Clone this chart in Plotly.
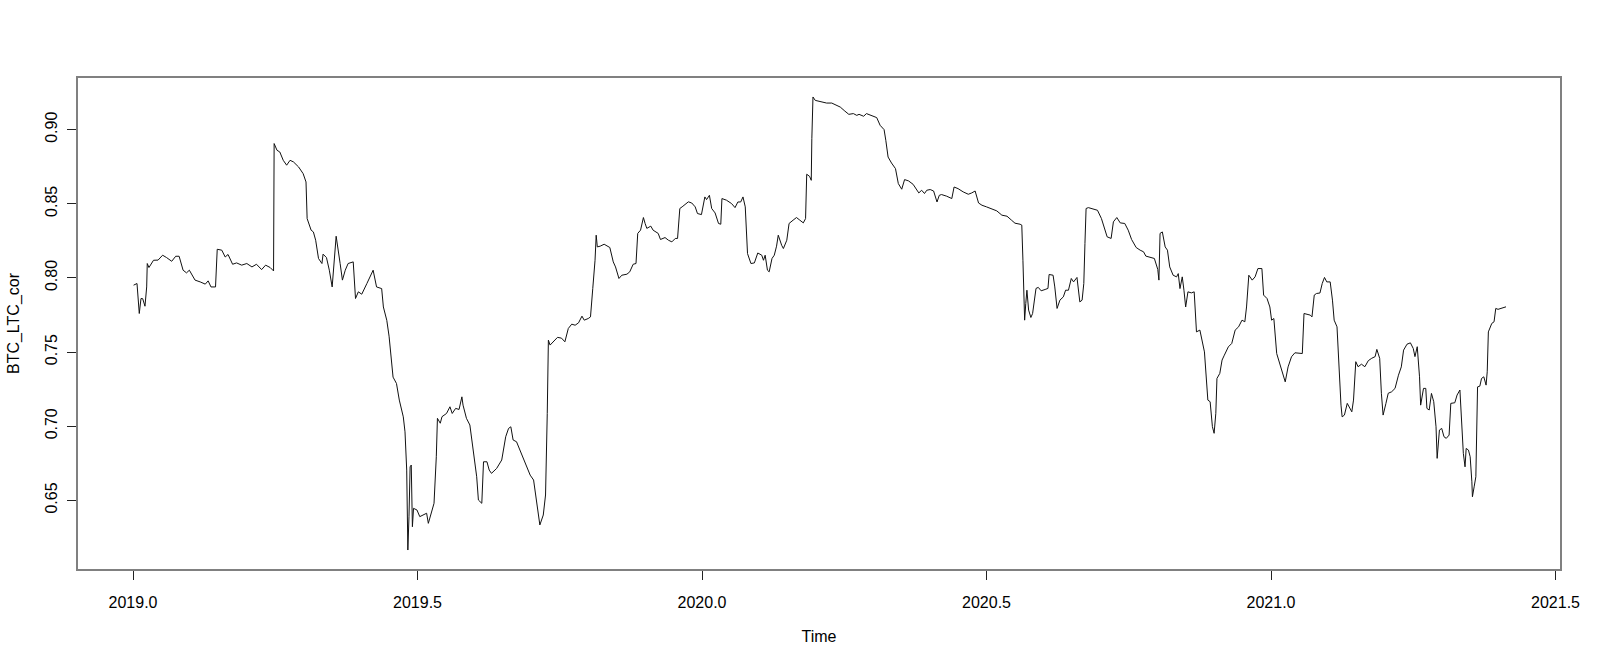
import plotly.graph_objects as go

time = [
    2019.001, 2019.007, 2019.011, 2019.014, 2019.017, 2019.021, 2019.024, 2019.025, 2019.028, 2019.036,
    2019.044, 2019.052, 2019.059, 2019.068, 2019.075, 2019.081, 2019.088, 2019.094, 2019.099, 2019.109,
    2019.118, 2019.127, 2019.132, 2019.137, 2019.145, 2019.148, 2019.156, 2019.162, 2019.167, 2019.175,
    2019.182, 2019.191, 2019.200, 2019.209, 2019.217, 2019.226, 2019.233, 2019.241, 2019.247, 2019.248,
    2019.253, 2019.258, 2019.264, 2019.270, 2019.276, 2019.282, 2019.291, 2019.299, 2019.304, 2019.306,
    2019.313, 2019.317, 2019.321, 2019.326, 2019.332, 2019.334, 2019.340, 2019.345, 2019.350, 2019.357,
    2019.364, 2019.368, 2019.373, 2019.378, 2019.387, 2019.391, 2019.396, 2019.402, 2019.411, 2019.422,
    2019.428, 2019.437, 2019.440, 2019.446, 2019.450, 2019.457, 2019.463, 2019.468, 2019.475, 2019.478,
    2019.481, 2019.483, 2019.485, 2019.487, 2019.489, 2019.491, 2019.493, 2019.499, 2019.504, 2019.510,
    2019.516, 2019.519, 2019.525, 2019.529, 2019.533, 2019.535, 2019.540, 2019.543, 2019.551, 2019.557,
    2019.561, 2019.567, 2019.573, 2019.578, 2019.580, 2019.586, 2019.592, 2019.598, 2019.604, 2019.607,
    2019.613, 2019.616, 2019.622, 2019.626, 2019.630, 2019.639, 2019.648, 2019.655, 2019.660, 2019.664,
    2019.668, 2019.674, 2019.680, 2019.686, 2019.692, 2019.698, 2019.704, 2019.710, 2019.715, 2019.721,
    2019.725, 2019.728, 2019.730, 2019.733, 2019.739, 2019.746, 2019.753, 2019.759, 2019.765, 2019.771,
    2019.777, 2019.783, 2019.789, 2019.793, 2019.800, 2019.804, 2019.808, 2019.812, 2019.814, 2019.816,
    2019.821, 2019.828, 2019.838, 2019.844, 2019.848, 2019.854, 2019.859, 2019.868, 2019.873, 2019.879,
    2019.884, 2019.887, 2019.892, 2019.897, 2019.900, 2019.903, 2019.910, 2019.914, 2019.923, 2019.927,
    2019.935, 2019.941, 2019.947, 2019.953, 2019.957, 2019.961, 2019.965, 2019.976, 2019.982, 2019.988,
    2019.992, 2019.999, 2020.005, 2020.008, 2020.013, 2020.017, 2020.023, 2020.029, 2020.033, 2020.035,
    2020.043, 2020.052, 2020.058, 2020.063, 2020.068, 2020.072, 2020.076, 2020.080, 2020.086, 2020.092,
    2020.098, 2020.105, 2020.108, 2020.111, 2020.115, 2020.118, 2020.123, 2020.127, 2020.131, 2020.134,
    2020.140, 2020.143, 2020.149, 2020.153, 2020.160, 2020.166, 2020.172, 2020.178, 2020.182, 2020.184,
    2020.189, 2020.192, 2020.193, 2020.195, 2020.199, 2020.210, 2020.219, 2020.228, 2020.234, 2020.243,
    2020.251, 2020.258, 2020.266, 2020.272, 2020.276, 2020.284, 2020.289, 2020.298, 2020.307, 2020.313,
    2020.320, 2020.323, 2020.327, 2020.333, 2020.340, 2020.345, 2020.351, 2020.356, 2020.363, 2020.371,
    2020.377, 2020.381, 2020.386, 2020.391, 2020.395, 2020.401, 2020.407, 2020.413, 2020.417, 2020.421,
    2020.430, 2020.439, 2020.443, 2020.450, 2020.459, 2020.468, 2020.474, 2020.480, 2020.486, 2020.492,
    2020.500, 2020.509, 2020.518, 2020.527, 2020.536, 2020.544, 2020.550, 2020.559, 2020.562, 2020.564,
    2020.567, 2020.569, 2020.571, 2020.574, 2020.578, 2020.581, 2020.587, 2020.591, 2020.596, 2020.603,
    2020.608, 2020.610, 2020.617, 2020.620, 2020.624, 2020.629, 2020.635, 2020.639, 2020.644, 2020.649,
    2020.653, 2020.659, 2020.661, 2020.664, 2020.668, 2020.671, 2020.673, 2020.675, 2020.679, 2020.688,
    2020.695, 2020.702, 2020.708, 2020.712, 2020.719, 2020.723, 2020.729, 2020.735, 2020.743, 2020.749,
    2020.755, 2020.763, 2020.770, 2020.776, 2020.780, 2020.787, 2020.795, 2020.801, 2020.803, 2020.805,
    2020.809, 2020.814, 2020.818, 2020.822, 2020.828, 2020.834, 2020.837, 2020.840, 2020.844, 2020.847,
    2020.850, 2020.854, 2020.860, 2020.865, 2020.869, 2020.875, 2020.883, 2020.889, 2020.893, 2020.897,
    2020.900, 2020.903, 2020.905, 2020.910, 2020.914, 2020.918, 2020.925, 2020.931, 2020.937, 2020.943,
    2020.949, 2020.954, 2020.957, 2020.961, 2020.967, 2020.972, 2020.977, 2020.984, 2020.987, 2020.993,
    2020.998, 2021.001, 2021.005, 2021.010, 2021.015, 2021.019, 2021.025, 2021.030, 2021.036, 2021.042,
    2021.055, 2021.058, 2021.069, 2021.072, 2021.076, 2021.080, 2021.086, 2021.090, 2021.094, 2021.098,
    2021.104, 2021.108, 2021.111, 2021.116, 2021.118, 2021.120, 2021.123, 2021.125, 2021.129, 2021.134,
    2021.137, 2021.142, 2021.145, 2021.149, 2021.153, 2021.159, 2021.165, 2021.171, 2021.177, 2021.183,
    2021.186, 2021.191, 2021.194, 2021.197, 2021.202, 2021.206, 2021.212, 2021.218, 2021.224, 2021.229,
    2021.233, 2021.239, 2021.245, 2021.250, 2021.253, 2021.257, 2021.261, 2021.263, 2021.268, 2021.272,
    2021.274, 2021.278, 2021.282, 2021.286, 2021.290, 2021.292, 2021.296, 2021.300, 2021.304, 2021.308,
    2021.313, 2021.316, 2021.323, 2021.327, 2021.332, 2021.335, 2021.338, 2021.341, 2021.343, 2021.347,
    2021.350, 2021.353, 2021.354, 2021.357, 2021.360, 2021.363, 2021.367, 2021.370, 2021.374, 2021.378,
    2021.380, 2021.382, 2021.388, 2021.392, 2021.395, 2021.399, 2021.405, 2021.413,
]

btc_ltc_cor = [
    0.7951, 0.7962, 0.7760, 0.7861, 0.7860, 0.7809, 0.7939, 0.8097, 0.8070, 0.8119,
    0.8120, 0.8153, 0.8137, 0.8112, 0.8146, 0.8146, 0.8052, 0.8034, 0.8052, 0.7985,
    0.7973, 0.7958, 0.7980, 0.7939, 0.7939, 0.8193, 0.8187, 0.8141, 0.8158, 0.8092,
    0.8101, 0.8086, 0.8097, 0.8074, 0.8092, 0.8056, 0.8086, 0.8070, 0.8047, 0.8906,
    0.8861, 0.8849, 0.8793, 0.8760, 0.8793, 0.8782, 0.8748, 0.8703, 0.8647, 0.8400,
    0.8322, 0.8310, 0.8254, 0.8131, 0.8097, 0.8160, 0.8137, 0.8052, 0.7939, 0.8281,
    0.8097, 0.7985, 0.8052, 0.8097, 0.8108, 0.7861, 0.7906, 0.7890, 0.7962, 0.8052,
    0.7939, 0.7928, 0.7804, 0.7714, 0.7607, 0.7331, 0.7288, 0.7176, 0.7063, 0.6962,
    0.6704, 0.6165, 0.6389, 0.6726, 0.6738, 0.6322, 0.6446, 0.6435, 0.6390, 0.6401,
    0.6413, 0.6345, 0.6435, 0.6480, 0.6794, 0.7053, 0.7020, 0.7064, 0.7086, 0.7131,
    0.7086, 0.7120, 0.7113, 0.7198, 0.7142, 0.7053, 0.7008, 0.6839, 0.6659, 0.6502,
    0.6480, 0.6760, 0.6760, 0.6704, 0.6682, 0.6715, 0.6772, 0.6929, 0.6985, 0.6996,
    0.6907, 0.6895, 0.6839, 0.6783, 0.6726, 0.6670, 0.6637, 0.6480, 0.6334, 0.6401,
    0.6536, 0.7086, 0.7580, 0.7547, 0.7569, 0.7599, 0.7594, 0.7569, 0.7659, 0.7688,
    0.7681, 0.7697, 0.7742, 0.7715, 0.7726, 0.7737, 0.7929, 0.8119, 0.8288, 0.8209,
    0.8214, 0.8227, 0.8205, 0.8108, 0.8074, 0.7996, 0.8018, 0.8025, 0.8041, 0.8092,
    0.8097, 0.8300, 0.8322, 0.8407, 0.8367, 0.8334, 0.8349, 0.8322, 0.8300, 0.8259,
    0.8272, 0.8254, 0.8243, 0.8266, 0.8266, 0.8468, 0.8479, 0.8513, 0.8505, 0.8479,
    0.8434, 0.8427, 0.8546, 0.8528, 0.8557, 0.8468, 0.8438, 0.8367, 0.8362, 0.8535,
    0.8524, 0.8501, 0.8474, 0.8512, 0.8512, 0.8546, 0.8479, 0.8164, 0.8097, 0.8101,
    0.8168, 0.8153, 0.8119, 0.8153, 0.8052, 0.8041, 0.8131, 0.8153, 0.8214, 0.8288,
    0.8220, 0.8198, 0.8254, 0.8367, 0.8389, 0.8407, 0.8389, 0.8371, 0.8400, 0.8699,
    0.8685, 0.8658, 0.8939, 0.9220, 0.9197, 0.9186, 0.9179, 0.9179, 0.9170, 0.9152,
    0.9125, 0.9103, 0.9108, 0.9096, 0.9103, 0.9090, 0.9108, 0.9096, 0.9081, 0.9029,
    0.9000, 0.8928, 0.8815, 0.8775, 0.8737, 0.8636, 0.8598, 0.8663, 0.8654, 0.8631,
    0.8591, 0.8573, 0.8591, 0.8569, 0.8591, 0.8596, 0.8586, 0.8512, 0.8557, 0.8562,
    0.8551, 0.8535, 0.8613, 0.8602, 0.8580, 0.8564, 0.8573, 0.8586, 0.8505, 0.8490,
    0.8479, 0.8468, 0.8452, 0.8423, 0.8416, 0.8389, 0.8369, 0.8362, 0.8356, 0.8119,
    0.7715, 0.7827, 0.7917, 0.7783, 0.7733, 0.7760, 0.7929, 0.7936, 0.7913, 0.7922,
    0.7929, 0.8023, 0.8018, 0.7939, 0.7794, 0.7850, 0.7872, 0.7917, 0.7917, 0.7996,
    0.7973, 0.8003, 0.7917, 0.7838, 0.7850, 0.7962, 0.8232, 0.8468, 0.8474, 0.8465,
    0.8456, 0.8400, 0.8322, 0.8277, 0.8266, 0.8378, 0.8407, 0.8371, 0.8367, 0.8322,
    0.8259, 0.8205, 0.8187, 0.8176, 0.8147, 0.8138, 0.8131, 0.8057, 0.7985, 0.8300,
    0.8310, 0.8209, 0.8187, 0.8074, 0.8018, 0.8007, 0.8029, 0.7928, 0.8007, 0.7917,
    0.7804, 0.7906, 0.7899, 0.7906, 0.7636, 0.7648, 0.7501, 0.7176, 0.7165, 0.6997,
    0.6952, 0.7087, 0.7322, 0.7356, 0.7446, 0.7479, 0.7535, 0.7558, 0.7648, 0.7670,
    0.7715, 0.7704, 0.7804, 0.8018, 0.7985, 0.8007, 0.8063, 0.8063, 0.7884, 0.7861,
    0.7804, 0.7715, 0.7726, 0.7490, 0.7423, 0.7367, 0.7299, 0.7400, 0.7468, 0.7495,
    0.7490, 0.7760, 0.7749, 0.7737, 0.7884, 0.7895, 0.7898, 0.7962, 0.8003, 0.7973,
    0.7973, 0.7850, 0.7715, 0.7670, 0.7513, 0.7311, 0.7142, 0.7063, 0.7075, 0.7154,
    0.7131, 0.7097, 0.7176, 0.7435, 0.7401, 0.7418, 0.7401, 0.7442, 0.7458, 0.7469,
    0.7518, 0.7457, 0.7222, 0.7075, 0.7154, 0.7222, 0.7232, 0.7255, 0.7344, 0.7400,
    0.7513, 0.7553, 0.7562, 0.7524, 0.7469, 0.7536, 0.7333, 0.7142, 0.7255, 0.7255,
    0.7120, 0.7109, 0.7221, 0.7165, 0.6996, 0.6783, 0.6974, 0.6985, 0.6929, 0.6918,
    0.6940, 0.7154, 0.7158, 0.7210, 0.7244, 0.7053, 0.6817, 0.6726, 0.6850, 0.6839,
    0.6794, 0.6625, 0.6524, 0.6591, 0.6659, 0.7265, 0.7270, 0.7322, 0.7333, 0.7277,
    0.7367, 0.7636, 0.7693, 0.7704, 0.7794, 0.7788, 0.7794, 0.7805,
]

x_ticks = [2019.0, 2019.5, 2020.0, 2020.5, 2021.0, 2021.5]
x_tick_labels = ["2019.0", "2019.5", "2020.0", "2020.5", "2021.0", "2021.5"]
y_ticks = [0.65, 0.70, 0.75, 0.80, 0.85, 0.90]
y_tick_labels = ["0.65", "0.70", "0.75", "0.80", "0.85", "0.90"]

FONT = "Liberation Sans, Arial, sans-serif"

fig = go.Figure()
fig.add_trace(go.Scatter(
    x=time, y=btc_ltc_cor, mode="lines",
    line=dict(color="#111111", width=1),
    hoverinfo="x+y", showlegend=False,
))

fig.update_layout(
    width=1600, height=666, autosize=False,
    margin=dict(l=78, r=40, t=78, b=97),
    paper_bgcolor="white", plot_bgcolor="white",
    font=dict(family=FONT, size=16, color="black"),
    showlegend=False,
)

fig.update_xaxes(
    range=[2018.9033, 2021.5079],
    tickmode="array", tickvals=x_ticks, ticktext=x_tick_labels,
    ticks="outside", ticklen=9, tickwidth=1, tickcolor="#222222",
    showline=True, mirror=True, linecolor="#808080", linewidth=1.5,
    showgrid=False, zeroline=False, automargin=False,
    ticklabelstandoff=9,
    title=dict(text="Time", font=dict(size=16), standoff=21),
)
fig.update_yaxes(
    range=[0.6037, 0.9348],
    tickmode="array", tickvals=y_ticks, ticktext=y_tick_labels,
    tickangle=-90,
    ticks="outside", ticklen=9, tickwidth=1, tickcolor="#222222",
    showline=True, mirror=True, linecolor="#808080", linewidth=1.5,
    showgrid=False, zeroline=False, automargin=False,
    ticklabelstandoff=4,
    title=dict(text="BTC_LTC_cor", font=dict(size=16), standoff=19),
)

fig.write_html(
    "out.html",
    config={"displayModeBar": False},
    post_script="document.body.style.margin='0';",
)
